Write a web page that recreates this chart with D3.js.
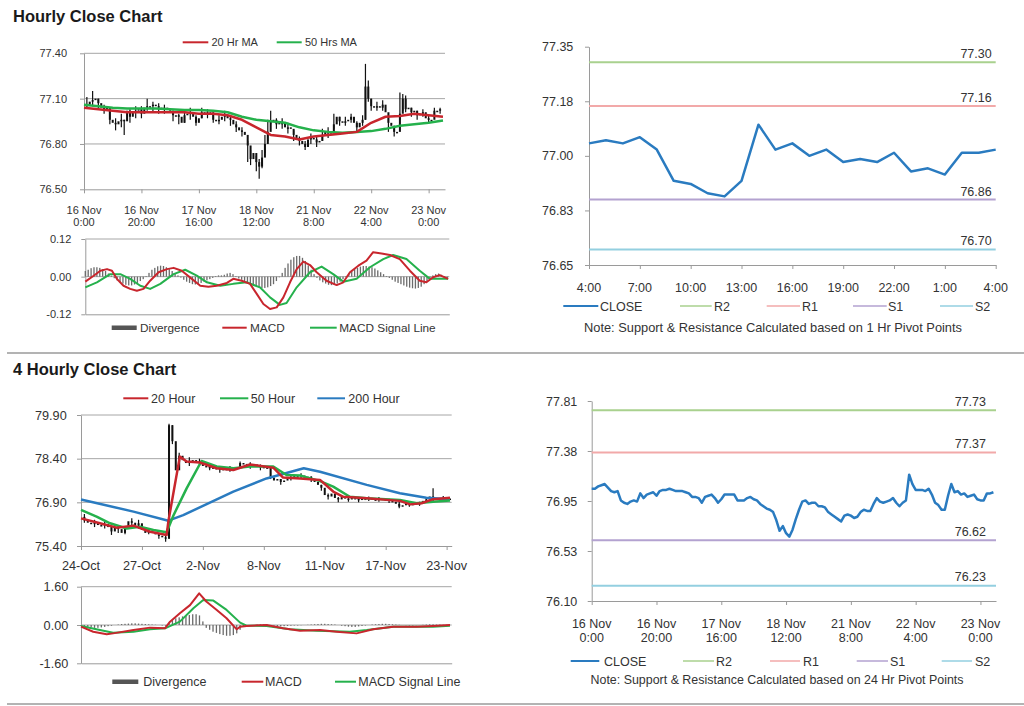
<!DOCTYPE html>
<html><head><meta charset="utf-8">
<script src="https://cdn.jsdelivr.net/npm/d3@7"></script>
<style>body{margin:0;background:#fff}svg{display:block;font-family:"Liberation Sans",Arial,sans-serif}</style>
</head><body><script>
// ---------------- DATA ----------------
const hourTickIdx = [0,20,40,60,80,100,120];
const hourTickLabels = [["16 Nov","0:00"],["16 Nov","20:00"],["17 Nov","16:00"],["18 Nov","12:00"],["21 Nov","8:00"],["22 Nov","4:00"],["23 Nov","0:00"]];
const hourlyClose = [77.06,77.06,77.08,77.09,77.10,77.07,77.04,77.03,77.04,76.96,
 76.94,76.93,76.95,76.96,76.95,77.02,76.98,77.01,77.02,77.03,
 77.00,77.04,77.05,77.05,77.06,77.05,77.04,77.04,77.04,77.03,
 77.02,76.99,76.99,76.98,76.94,76.99,77.00,77.01,76.98,76.94,
 76.97,77.01,77.01,77.01,77.01,76.96,76.96,76.96,76.98,76.99,
 76.97,76.96,76.93,76.91,76.89,76.88,76.86,76.79,76.70,76.74,
 76.68,76.65,76.71,76.80,76.88,76.95,76.96,76.93,76.94,76.94,
 76.91,76.91,76.90,76.86,76.84,76.82,76.80,76.78,76.83,76.84,
 76.83,76.81,76.82,76.86,76.88,76.87,76.87,76.93,76.98,76.95,
 76.94,76.95,76.96,76.98,76.94,76.91,76.94,76.96,77.18,77.10,
 77.05,77.05,77.05,77.04,77.06,77.01,76.94,76.92,76.88,76.88,
 77.00,77.10,77.03,77.04,77.01,77.02,76.99,77.00,77.01,76.97,
 76.96,76.96,77.02,77.02,77.03];
// [hour index, low, high] of the visible wicks
const hourlyWicks = [[1,77.04,77.11],[3,77.05,77.15],[5,77.03,77.10],[7,77.00,77.06],[9,76.93,77.04],[11,76.89,76.97],
 [13,76.91,77.00],[14,76.86,76.96],[16,76.94,77.03],[18,76.97,77.05],[20,76.97,77.05],[22,77.02,77.10],[24,77.01,77.08],
 [26,77.00,77.07],[28,77.00,77.06],[31,76.95,77.02],[33,76.93,77.00],[35,76.94,77.02],[37,76.96,77.04],[39,76.92,76.99],
 [41,76.97,77.04],[43,76.97,77.03],[45,76.94,77.00],[47,76.93,76.99],[49,76.95,77.02],[51,76.92,76.99],[53,76.88,76.95],
 [55,76.85,76.91],[57,76.68,76.82],[58,76.66,76.76],[60,76.62,76.72],[61,76.57,76.70],[62,76.64,76.76],[63,76.74,76.86],
 [64,76.82,76.96],[65,76.93,77.02],[67,76.90,76.97],[69,76.90,76.97],[71,76.87,76.94],[73,76.82,76.89],[75,76.79,76.85],
 [77,76.76,76.82],[79,76.80,76.87],[81,76.78,76.85],[83,76.82,76.90],[85,76.84,76.91],[87,76.90,77.00],[89,76.92,76.98],
 [91,76.92,76.98],[93,76.94,77.00],[95,76.88,76.95],[97,76.92,76.99],[98,76.96,77.33],[99,77.08,77.22],[100,77.02,77.10],
 [102,77.02,77.08],[104,77.02,77.09],[106,76.88,76.97],[108,76.85,76.92],[110,76.96,77.14],[111,77.02,77.13],
 [112,77.01,77.12],[114,76.98,77.04],[116,76.96,77.02],[118,76.98,77.03],[120,76.94,76.99],[122,76.98,77.04],[124,77.00,77.04]];
// moving averages sampled every 5 hours (hour 0..125)
const ma20Hr = [77.04,77.03,77.02,77.01,77.01,77.01,77.01,77.01,77.00,77.00,76.99,76.96,76.91,
 76.86,76.85,76.83,76.85,76.86,76.87,76.88,76.94,76.98,76.985,77.00,76.99,76.98];
const ma50Hr = [77.06,77.05,77.04,77.035,77.035,77.035,77.03,77.025,77.025,77.02,77.01,76.98,76.96,
 76.95,76.94,76.91,76.89,76.88,76.875,76.88,76.885,76.90,76.92,76.93,76.94,76.955];
const hourlyDivergence = [0.018,0.022,0.027,0.03,0.03,0.028,0.024,0.018,0.01,0.003,
 -0.005,-0.012,-0.018,-0.022,-0.026,-0.028,-0.028,-0.025,-0.02,-0.014,
 -0.008,0.002,0.012,0.022,0.028,0.033,0.035,0.034,0.03,0.024,
 0.018,0.01,0.004,-0.003,-0.01,-0.016,-0.02,-0.024,-0.025,-0.024,
 -0.02,-0.016,-0.012,-0.008,-0.004,0.002,0.004,0.004,0.006,0.01,
 0.012,0.008,0.002,-0.006,-0.01,-0.014,-0.018,-0.022,-0.026,-0.03,
 -0.034,-0.036,-0.036,-0.034,-0.03,-0.024,-0.014,-0.002,0.012,0.028,
 0.042,0.054,0.062,0.066,0.066,0.06,0.05,0.036,0.022,0.008,
 -0.004,-0.012,-0.018,-0.022,-0.026,-0.027,-0.026,-0.022,-0.016,-0.008,
 0.002,0.01,0.018,0.024,0.028,0.032,0.034,0.034,0.032,0.03,
 0.026,0.02,0.014,0.008,0.002,-0.004,-0.01,-0.016,-0.02,-0.024,
 -0.028,-0.032,-0.035,-0.037,-0.038,-0.036,-0.032,-0.024,-0.014,-0.004,
 0.004,0.008,0.01,0.006,0.002,-0.004];
const hourlyMacd = [[0,-0.016],[2.9,0.003],[5.2,0.019],[7.5,0.024],[9.2,0.019],[10.9,-0.007],[13.2,-0.029],[15.5,-0.039],
 [17.8,-0.045],[20.1,-0.039],[22.4,-0.013],[25.3,0.014],[28.2,0.024],[30.5,0.028],[33.3,0.019],[36.8,-0.007],
 [39.7,-0.029],[42.5,-0.032],[45.4,-0.029],[48.9,-0.02],[51.1,-0.007],[54,-0.013],[56.9,-0.023],[59.2,-0.055],
 [61.5,-0.087],[63.8,-0.103],[66.1,-0.098],[68.4,-0.066],[70.7,-0.018],[73,0.024],[75.3,0.048],[77.6,0.037],
 [79.9,0.014],[83.3,-0.013],[86.8,-0.027],[89.1,-0.018],[91.4,0.014],[94.3,0.035],[97.1,0.051],[99.4,0.078],
 [102.3,0.074],[105.2,0.069],[108.6,0.056],[112.1,0.019],[115.5,-0.013],[117.8,-0.018],[120.1,-0.002],
 [122.4,0.005],[125.3,-0.007]];
const hourlySignal = [[0,-0.034],[4,-0.018],[8.6,0.008],[12.1,0.008],[15.5,-0.007],[19,-0.029],[22.4,-0.039],
 [25.9,-0.023],[30.5,0.008],[34.5,0.022],[38.5,0.003],[42,-0.018],[46.6,-0.029],[51.1,-0.023],[55.7,-0.018],
 [60.3,-0.034],[63.8,-0.066],[67.2,-0.09],[69.5,-0.084],[73,-0.034],[77.6,0.014],[81.6,0.032],[85.6,0.008],
 [89.1,-0.016],[93.7,-0.007],[98.3,0.03],[102.9,0.056],[106.3,0.069],[110.9,0.056],[115.5,0.019],
 [119,-0.007],[125.3,-0.007]];

// 1 hour pivot chart
const pivotHourLabels = ["4:00","7:00","10:00","13:00","16:00","19:00","22:00","1:00","4:00"];
const pivotHourClose = [77.04,77.05,77.04,77.06,77.02,76.92,76.91,76.88,76.87,76.92,77.10,77.02,77.04,
 77.00,77.02,76.98,76.99,76.98,77.01,76.95,76.96,76.94,77.01,77.01,77.02];
const pivotHourTicks = [76.65,76.825,77.00,77.175,77.35];
const pivotHourTickLabels = ["76.65","76.83","77.00","77.18","77.35"];
const pivotNames = ["R2","R1","S1","S2"];
const pivot1Hr = [77.30,77.16,76.86,76.70];
// 24 hour pivot chart (uses hourlyClose)
const pivotDayTicks = [76.10,76.5275,76.955,77.3825,77.81];
const pivotDayTickLabels = ["76.10","76.53","76.95","77.38","77.81"];
const pivot24Hr = [77.73,77.37,76.62,76.23];

// 4 hourly chart
const fourTickIdx = [0,18,36,54,72,90,108];
const fourTickLabels = ["24-Oct","27-Oct","2-Nov","8-Nov","11-Nov","17-Nov","23-Nov"];
const fourClose = [76.40,76.28,76.20,76.15,76.22,76.12,76.10,76.15,76.05,75.90,
 76.05,75.98,75.85,76.02,76.25,76.20,76.10,76.18,75.95,75.85,
 75.92,75.88,75.80,75.75,75.70,75.65,79.55,79.00,78.00,78.50,
 78.35,78.25,78.30,78.35,78.30,78.28,78.15,78.10,78.12,78.05,
 78.08,78.02,78.05,78.00,78.05,78.08,78.10,78.25,78.20,78.22,
 78.18,78.20,78.15,78.12,78.10,78.08,77.75,77.65,77.70,77.60,
 77.65,77.70,77.75,77.80,77.78,77.82,77.75,77.78,77.70,77.60,
 77.50,77.40,77.15,77.10,77.20,77.05,77.00,77.08,77.03,77.00,
 77.05,77.02,76.98,77.03,77.00,77.05,76.98,77.00,77.03,76.98,
 77.00,76.95,76.92,76.85,76.75,76.80,76.85,76.82,76.85,76.88,
 76.85,76.95,77.00,77.10,77.00,77.05,77.02,77.05,77.00,77.03];
const fourWicks = [[1,76.20,76.50],[4,76.05,76.30],[7,76.00,76.25],[9,75.78,76.05],[11,75.85,76.10],[13,75.80,76.05],
 [15,76.05,76.35],[17,76.00,76.30],[20,75.80,76.00],[23,75.65,75.85],[25,75.55,75.80],[26,75.65,79.60],[27,78.90,79.55],
 [29,78.30,78.60],[32,78.15,78.45],[35,78.15,78.40],[38,78.00,78.20],[41,77.92,78.12],[44,77.95,78.15],[47,78.10,78.30],
 [50,78.05,78.28],[53,78.00,78.20],[56,77.70,78.10],[59,77.50,77.70],[62,77.65,77.85],[65,77.72,77.90],[68,77.60,77.80],
 [71,77.30,77.50],[73,77.00,77.20],[76,76.90,77.08],[79,76.92,77.08],[82,76.90,77.05],[85,76.95,77.10],[88,76.92,77.08],
 [91,76.88,77.02],[94,76.70,76.95],[97,76.75,76.90],[100,76.78,76.92],[102,76.92,77.08],[104,76.95,77.38],[107,76.98,77.12]];
const ma20Hour = [[0,76.35],[5.6,76.18],[10.5,76.03],[15.5,76.10],[20.4,75.89],[25.3,75.78],[25.8,76.24],[29.2,78.47],
 [31.2,78.30],[35.1,78.27],[40.1,78.07],[45,78.01],[49.9,78.20],[56.8,78.09],[59.7,77.75],[64.7,77.72],
 [70.6,77.67],[74.5,77.27],[77.5,77.09],[84.4,77.04],[94.2,76.95],[97.2,76.83],[100.6,76.87],[104,77.01],[109,77.06]];
const ma50Hour = [[0,76.64],[4.6,76.41],[8.6,76.18],[13.5,76.0],[17.4,76.06],[21.4,75.95],[25.3,75.87],[27.3,76.45],
 [31.2,77.38],[35.6,78.32],[40.1,78.13],[45,78.07],[49.9,78.13],[56.8,78.13],[60.7,77.84],[64.7,77.82],
 [70.6,77.63],[74.5,77.44],[79.4,77.09],[84.4,77.04],[94.2,76.98],[99.1,76.87],[104,76.92],[109,76.96]];
const ma200Hour = [[0,77.0],[15.5,76.58],[25.8,76.27],[30.2,76.46],[45,77.27],[54.8,77.72],[65.8,78.07],[70.6,77.95],
 [84.4,77.5],[94.2,77.21],[102,77.06],[109,77.01]];
const fourDivergence = [-0.03,-0.06,-0.08,-0.10,
 -0.12,-0.12,-0.10,-0.08,-0.05,
 -0.03,0.0,0.02,0.04,0.05,0.06,
 0.07,0.07,0.06,0.05,0.04,0.03,
 0.02,0.01,0.0,-0.02,-0.03,
 0.10,0.20,0.28,0.32,0.36,0.40,0.42,0.45,0.45,0.40,0.15,
 -0.12,-0.20,-0.28,-0.33,-0.38,-0.42,-0.45,-0.45,-0.42,-0.35,-0.20,
 -0.08,-0.04,-0.02,0.0,0.02,0.03,0.03,0.02,
 0.0,-0.03,-0.05,-0.06,-0.05,-0.04,-0.03,-0.02,
 -0.02,-0.01,0.0,0.01,0.02,0.03,0.04,0.05,0.05,0.04,0.03,0.02,
 0.0,-0.03,-0.05,-0.07,-0.08,-0.08,-0.06,-0.04,-0.02,0.0,
 0.02,0.03,0.04,0.05,0.05,0.04,0.03,0.02,0.01,0.0,
 -0.01,-0.02,-0.02,-0.01,0.0,0.01,0.02,0.03,0.03,0.02,0.02,0.01,0.01,0.0];
const fourMacd = [[0,-0.07],[3.6,-0.28],[7.6,-0.39],[9.5,-0.35],[15.5,-0.21],[20.4,-0.11],[24.8,-0.14],[26.3,0.14],
 [29.2,0.49],[32.2,0.83],[34.9,1.32],[37.1,0.97],[40.1,0.63],[43,0.28],[46,-0.18],[47,-0.07],[48.9,-0.04],
 [54.8,0],[59.7,-0.14],[64.7,-0.24],[70.6,-0.21],[75.5,-0.28],[81.4,-0.35],[86.3,-0.18],[92.2,-0.07],
 [99.1,-0.07],[104,-0.04],[109,0]];
const fourSignal = [[0,-0.04],[5.6,-0.21],[9.5,-0.32],[15.5,-0.28],[20.4,-0.18],[24.8,-0.14],[29.2,0.14],[33.2,0.70],
 [36.1,1.04],[39.1,1.02],[43,0.63],[47,0.10],[48.9,-0.03],[54.8,-0.04],[61.7,-0.18],[69.6,-0.24],[79.4,-0.28],
 [84.4,-0.21],[92.2,-0.07],[104,-0.07],[109,-0.03]];

// ---------------- DRAWING ----------------
const TXT="#333", GRID="#a6a6a6", AXIS="#9a9a9a";
const RED="#c8262d", GREEN="#25b14c", BLUE="#2a7bc0", DIV="#6b6b6b";
const pivotColors = ["#a9d18e","#f2a9a9","#b3a2d0","#93cfe0"];
const FONT='"Liberation Sans",Arial,sans-serif';

const svg = d3.select("body").append("svg").attr("width",1024).attr("height",706);

function txt(g,x,y,s,fs,anchor){
  return g.append("text").attr("x",x).attr("y",y).attr("font-size",fs).attr("fill",TXT)
    .attr("text-anchor",anchor||"start").attr("font-family",FONT).text(s);
}
function leftAxis(x0,y,ticks,labels,fs,gap){
  const ax = d3.axisLeft(y).tickValues(ticks).tickFormat((d,i)=>labels[i]).tickSize(4).tickPadding(gap-4).tickSizeOuter(0);
  const a = svg.append("g").attr("transform",`translate(${x0},0)`).call(ax);
  a.select(".domain").attr("stroke",AXIS);
  a.selectAll(".tick line").attr("stroke",AXIS);
  a.selectAll(".tick text").attr("fill",TXT).attr("font-size",fs).attr("font-family",FONT);
}
function grid(x,y,vals){
  svg.append("g").selectAll("line").data(vals).join("line")
    .attr("x1",x.range()[0]).attr("x2",x.range()[1]).attr("y1",d=>y(d)).attr("y2",d=>y(d))
    .attr("stroke",GRID).attr("stroke-width",1);
}
function bottomAxis(x,y0,ticks){
  const ax = d3.axisBottom(x).tickValues(ticks).tickFormat("").tickSize(4).tickSizeOuter(0);
  const a = svg.append("g").attr("transform",`translate(0,${y0})`).call(ax);
  a.select(".domain").attr("stroke",AXIS);
  a.selectAll(".tick line").attr("stroke",AXIS);
}
function xLabels(x,ticks,labels,y1,y2,fs){
  ticks.forEach((t,i)=>{
    const lab = labels[i];
    if (Array.isArray(lab)){ txt(svg,x(t),y1,lab[0],fs,"middle"); txt(svg,x(t),y2,lab[1],fs,"middle"); }
    else txt(svg,x(t),y1,lab,fs,"middle");
  });
}
function legLine(x1,x2,y,color,w){
  svg.append("line").attr("x1",x1).attr("x2",x2).attr("y1",y).attr("y2",y).attr("stroke",color).attr("stroke-width",w||2);
}
function candles(x,y,closes,wicks,w){
  const g = svg.append("g");
  g.selectAll("line").data(wicks).join("line")
    .attr("x1",d=>x(d[0])).attr("x2",d=>x(d[0])).attr("y1",d=>y(d[1])).attr("y2",d=>y(d[2]))
    .attr("stroke","#111").attr("stroke-width",1.2);
  g.selectAll("rect").data(d3.range(1,closes.length)).join("rect")
    .attr("x",i=>x(i)-w/2).attr("width",w)
    .attr("y",i=>Math.min(y(closes[i-1]),y(closes[i])))
    .attr("height",i=>Math.max(1.5,Math.abs(y(closes[i-1])-y(closes[i]))))
    .attr("fill","#111");
}
function path(data,x,y,color,w){
  svg.append("path").datum(data).attr("fill","none").attr("stroke",color).attr("stroke-width",w)
    .attr("stroke-linejoin","round").attr("d",d3.line().x(d=>x(d[0])).y(d=>y(d[1])));
}
function bars(data,x,y,w){
  svg.append("g").selectAll("rect").data(data).join("rect")
    .attr("x",(d,i)=>x(i)-w/2).attr("width",w)
    .attr("y",d=>Math.min(y(d),y(0))).attr("height",d=>Math.abs(y(d)-y(0)))
    .attr("fill",DIV);
}

// titles & separators
svg.append("text").attr("x",13).attr("y",22).attr("font-size",16.5).attr("font-weight","bold").attr("fill","#1a1a1a").attr("font-family",FONT).text("Hourly Close Chart");
svg.append("text").attr("x",13).attr("y",375).attr("font-size",16.5).attr("font-weight","bold").attr("fill","#1a1a1a").attr("font-family",FONT).text("4 Hourly Close Chart");
[353,704].forEach(yy=>svg.append("line").attr("x1",7).attr("x2",1024).attr("y1",yy).attr("y2",yy).attr("stroke","#b3b3b3").attr("stroke-width",2));

// ---- Panel 1: hourly close
{
  const x = d3.scaleLinear().domain([0,125.7]).range([84,445]);
  const y = d3.scaleLinear().domain([76.5,77.4]).range([189.3,53.3]);
  grid(x,y,[77.4,77.1,76.8]);
  leftAxis(84,y,[76.5,76.8,77.1,77.4],["76.50","76.80","77.10","77.40"],11,17);
  bottomAxis(x,189.3,hourTickIdx);
  xLabels(x,hourTickIdx,hourTickLabels,213.5,226,11);
  candles(x,y,hourlyClose,hourlyWicks,2);
  const idx = d3.range(0,126,5);
  path(ma50Hr.map((v,i)=>[idx[i],v]),x,y,GREEN,2.5);
  path(ma20Hr.map((v,i)=>[idx[i],v]),x,y,RED,2.5);
  legLine(182.7,208.3,42.3,RED,2); txt(svg,211.5,46,"20 Hr MA",11);
  legLine(276.7,301.7,42.3,GREEN,2); txt(svg,305,46,"50 Hrs MA",11);
}
// ---- Panel 2: hourly MACD
{
  const x = d3.scaleLinear().domain([0,125.7]).range([85.3,449.3]);
  const y = d3.scaleLinear().domain([-0.12,0.12]).range([314.3,239]);
  grid(x,y,[0.12,0]);
  leftAxis(85.3,y,[-0.12,0,0.12],["-0.12","0.00","0.12"],11,14);
  bottomAxis(x,314.3,[]);
  bars(hourlyDivergence,x,y,1.3);
  path(hourlySignal,x,y,GREEN,2);
  path(hourlyMacd,x,y,RED,2);
  svg.append("rect").attr("x",111.7).attr("y",325.5).attr("width",25).attr("height",4.5).attr("fill","#555");
  txt(svg,140,331.5,"Divergence",11.8);
  legLine(222.3,246.7,327.7,RED,2); txt(svg,250,331.5,"MACD",11.8);
  legLine(310,336.7,327.7,GREEN,2); txt(svg,339.3,331.5,"MACD Signal Line",11.8);
}
// ---- Pivot panel helper
function pivotPanel(o){
  const {x,y} = o;
  leftAxis(x.range()[0],y,o.ticks,o.tickLabels,12.5,o.gap);
  bottomAxis(x,y.range()[0],o.xTicks);
  xLabels(x,o.xTicks,o.xLabels,o.lab1,o.lab2,12.5);
  o.pivots.forEach((v,i)=>{
    svg.append("line").attr("x1",x.range()[0]).attr("x2",x.range()[1]).attr("y1",y(v)).attr("y2",y(v))
      .attr("stroke",pivotColors[i]).attr("stroke-width",2);
    txt(svg,o.pivLabX,y(v)-o.pivGap,v.toFixed(2),12.5,"end");
  });
  path(o.close.map((v,i)=>[i,v]),x,y,BLUE,2.5);
  const L = o.legend;
  legLine(L[0][0],L[0][1],o.legY,BLUE,2); txt(svg,L[0][2],o.legY+4.5,"CLOSE",12.5);
  pivotNames.forEach((n,i)=>{ const p=L[i+1]; legLine(p[0],p[1],o.legY,pivotColors[i],1.5); txt(svg,p[2],o.legY+4.5,n,12.5); });
  txt(svg,o.noteX,o.noteY,o.note,12.2,"middle").attr("textLength",o.noteW).attr("lengthAdjust","spacingAndGlyphs");
}
// ---- Panel 3: 1-hour pivots
pivotPanel({
  x: d3.scaleLinear().domain([0,24]).range([589,995.7]),
  y: d3.scaleLinear().domain([76.65,77.35]).range([265,46.7]),
  ticks: pivotHourTicks, tickLabels: pivotHourTickLabels, gap: 15.7,
  xTicks: d3.range(0,25,3), xLabels: pivotHourLabels, lab1: 292, lab2: null,
  pivots: pivot1Hr, pivLabX: 991.7, pivGap: 4,
  close: pivotHourClose,
  legY: 306, legend: [[563.3,598.3,600],[680,711.7,714],[766.7,800,802],[853,886.7,888],[940,973,975]],
  note: "Note: Support & Resistance Calculated based on 1 Hr Pivot Points", noteX: 773, noteY: 332, noteW: 378
});
// ---- Panel 6: 24-hour pivots
pivotPanel({
  x: d3.scaleLinear().domain([0,124.8]).range([591.7,996]),
  y: d3.scaleLinear().domain([76.10,77.81]).range([601,401]),
  ticks: pivotDayTicks, tickLabels: pivotDayTickLabels, gap: 14.4,
  xTicks: hourTickIdx, xLabels: hourTickLabels, lab1: 628, lab2: 642,
  pivots: pivot24Hr, pivLabX: 986, pivGap: 4.5,
  close: hourlyClose,
  legY: 661, legend: [[570.7,599.3,604],[683,714,716],[770,800,803],[856.7,888,890],[941.7,972,975]],
  note: "Note: Support & Resistance Calculated based on 24 Hr Pivot Points", noteX: 777, noteY: 684, noteW: 373
});
// ---- Panel 4: 4 hourly close
{
  const x = d3.scaleLinear().domain([0,109.5]).range([81,451.7]);
  const y = d3.scaleLinear().domain([75.4,79.9]).range([546,415]);
  grid(x,y,[79.9,78.4,76.9]);
  leftAxis(81,y,[75.4,76.9,78.4,79.9],["75.40","76.90","78.40","79.90"],12.7,14.3);
  bottomAxis(x,546,fourTickIdx);
  xLabels(x,fourTickIdx,fourTickLabels,570,null,12.7);
  candles(x,y,fourClose,fourWicks,2);
  path(ma200Hour,x,y,BLUE,2.5);
  path(ma50Hour,x,y,GREEN,2.5);
  path(ma20Hour,x,y,RED,2.5);
  legLine(123.3,148.3,398.3,RED,2); txt(svg,151,403,"20 Hour",12.5);
  legLine(220,248.3,398.3,GREEN,2); txt(svg,250.7,403,"50 Hour",12.5);
  legLine(317.3,345,398.3,BLUE,2); txt(svg,348.3,403,"200 Hour",12.5);
}
// ---- Panel 5: 4 hourly MACD
{
  const x = d3.scaleLinear().domain([0,109.5]).range([81,451.7]);
  const y = d3.scaleLinear().domain([-1.6,1.6]).range([663.3,586.7]);
  grid(x,y,[1.6,0]);
  leftAxis(81,y,[-1.6,0,1.6],["-1.60","0.00","1.60"],12.7,12.7);
  bottomAxis(x,663.3,[]);
  bars(fourDivergence,x,y,1.3);
  path(fourSignal,x,y,GREEN,2);
  path(fourMacd,x,y,RED,2);
  svg.append("rect").attr("x",112.3).attr("y",679.5).attr("width",26).attr("height",4.5).attr("fill","#555");
  txt(svg,143.3,686,"Divergence",12.5);
  legLine(241.7,263.3,681.7,RED,2); txt(svg,265,686,"MACD",12.5);
  legLine(335,356,681.7,GREEN,2); txt(svg,358.3,686,"MACD Signal Line",12.5);
}
</script></body></html>
